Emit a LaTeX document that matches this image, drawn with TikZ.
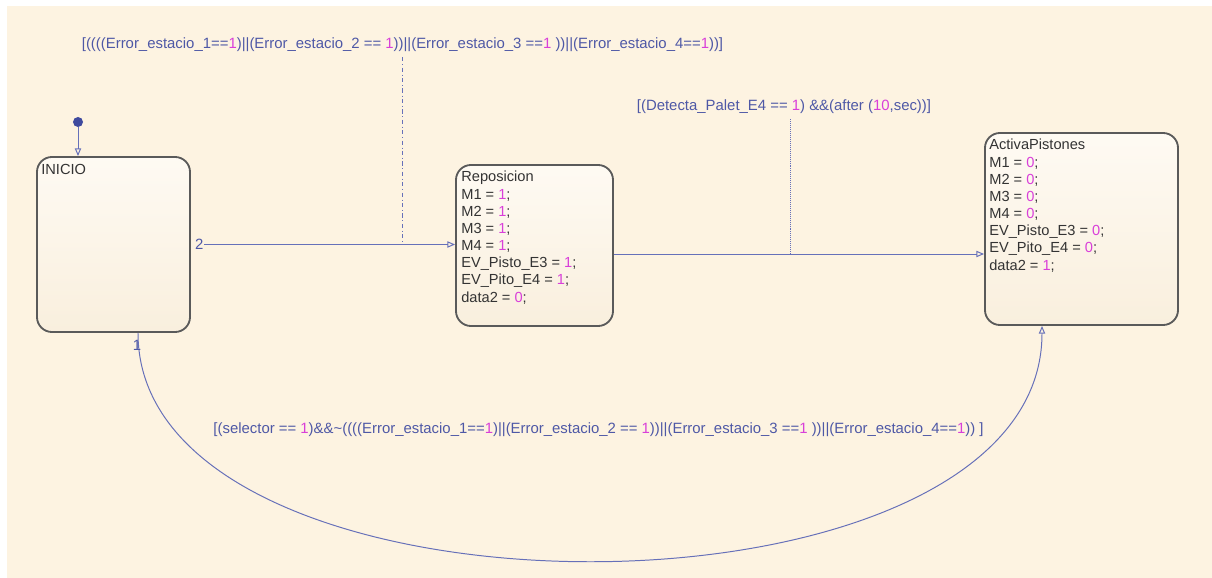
\documentclass[tikz,border=0pt]{standalone}
\usepackage{fontspec}
\setmainfont{Liberation Sans}
\usetikzlibrary{arrows.meta,calc}

\definecolor{fondo}{HTML}{FDF3E1}
\definecolor{azul}{HTML}{6670B9}
\definecolor{azulosc}{HTML}{3F4A9E}
\definecolor{txtazul}{HTML}{4E58A6}
\definecolor{numero}{HTML}{D93FD9}
\definecolor{borde}{HTML}{5A5A5A}
\definecolor{textoest}{HTML}{333333}

\newcommand{\nv}[1]{\textcolor{numero}{#1}}

\tikzstyle{estado} = [draw=borde, line width=1.3pt, rounded corners=0.375cm, top color=white!60!fondo, bottom color=fondo!80!black!8!fondo]
\tikzstyle{accion} = [inner sep=0pt, anchor=north west, align=left, text=textoest, font=\fontsize{10.4}{12.2}\selectfont]
\tikzstyle{cond} = [inner sep=0pt, text=txtazul, font=\fontsize{10.6}{12}\selectfont]
\tikzstyle{trans} = [draw=azul, line width=0.7pt, -{Triangle[open, length=5.5pt, width=4.5pt]}]

\begin{document}
\begin{tikzpicture}[x=0.025cm, y=-0.025cm]
    \useasboundingbox (0,0) rectangle (1212,578);
    \fill[white] (0,0) rectangle (1212,578);
    \fill[fondo] (7,6) rectangle (1212,578);

    \node[estado, minimum width=3.825cm, minimum height=4.375cm] (inicio) at (113.5,244.5) {};
    \node[estado, minimum width=3.925cm, minimum height=4.025cm] (repo) at (534.5,245.5) {};
    \node[estado, minimum width=4.825cm, minimum height=4.8cm] (act) at (1081.5,229) {};

    \node[accion] (inicio-txt) at ($(inicio.north west)+(5,8)$) {INICIO};
    \node[accion] (repo-txt) at ($(repo.north west)+(6,7)$) {Reposicion\\
        M1 = \nv{1};\\
        M2 = \nv{1};\\
        M3 = \nv{1};\\
        M4 = \nv{1};\\
        EV\_Pisto\_E3 = \nv{1};\\
        EV\_Pito\_E4 = \nv{1};\\
        data2 = \nv{0};};
    \node[accion] (act-txt) at ($(act.north west)+(5,7)$) {ActivaPistones\\
        M1 = \nv{0};\\
        M2 = \nv{0};\\
        M3 = \nv{0};\\
        M4 = \nv{0};\\
        EV\_Pisto\_E3 = \nv{0};\\
        EV\_Pito\_E4 = \nv{0};\\
        data2 = \nv{1};};

    \node[circle, fill=azulosc, inner sep=0pt, minimum size=0.25cm] (ini) at (78,122) {};
    \draw[trans] (ini) -- (ini |- inicio.north);

    \node[cond, anchor=west] (t2) at ([xshift=0.1cm]inicio.east) {2};
    \draw[trans] (t2.east) -- (t2.east -| repo.west);
    \node[cond] (c1) at (402.5,45) {[((((Error\_estacio\_1==\nv{1})||(Error\_estacio\_2 == \nv{1}))||(Error\_estacio\_3 ==\nv{1} ))||(Error\_estacio\_4==\nv{1}))]};
    \draw[azul, dash dot, line width=0.4pt] (c1.south) ++(0,5) -- (c1.south |- t2.east);

    \coordinate (s2) at ($(repo.east)+(0,8.5)$);
    \draw[trans] (s2) -- (s2 -| act.west);
    \node[cond] (c2) at (784,107) {[(Detecta\_Palet\_E4 == \nv{1}) \&\&(after (\nv{10},sec))]};
    \draw[azul, densely dotted, line width=0.4pt] ([xshift=0.15cm]c2.south) ++(0,5) coordinate (d2) -- (d2 |- s2);

    \coordinate (s1) at ($(inicio.south)+(24.5,0)$);
    \coordinate (e1) at ($(act.south)+(-39.5,0)$);
    \draw[trans] (s1) .. controls +(0,305) and +(0,312) .. (e1);
    \node[cond, anchor=north] (n1) at ($(s1)+(-1,7)$) {1};
    \node[cond] (c3) at (598.5,430) {[(selector == \nv{1})\&\&\textasciitilde((((Error\_estacio\_1==\nv{1})||(Error\_estacio\_2 == \nv{1}))||(Error\_estacio\_3 ==\nv{1} ))||(Error\_estacio\_4==\nv{1})) ]};
\end{tikzpicture}
\end{document}
